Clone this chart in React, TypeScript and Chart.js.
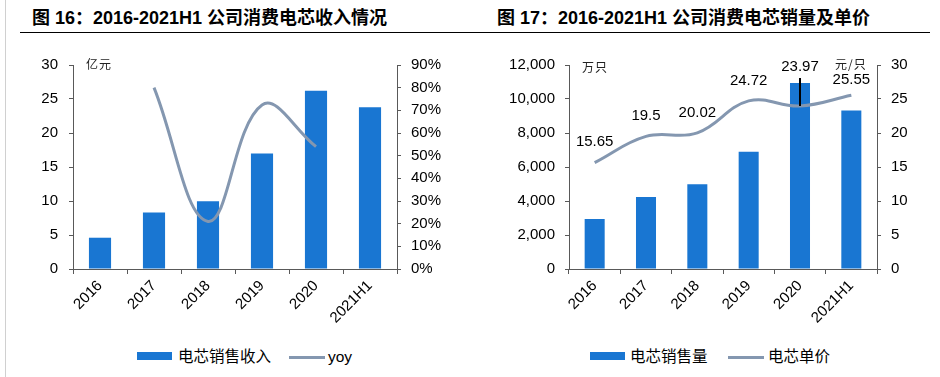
import React, { useEffect, useRef } from 'react';
import { Chart, registerables } from 'chart.js';

Chart.register(...registerables);

// ---- data ----
const categories = ['2016', '2017', '2018', '2019', '2020', '2021H1'];
// Figure 16
const revenue = [4.6, 8.3, 9.95, 17.0, 26.2, 23.8]; // 亿元
const yoy = [null, 80, 21, 72.4, 54, null]; // %
const revenueTicks = [0, 5, 10, 15, 20, 25, 30];
const yoyTicks = [0, 10, 20, 30, 40, 50, 60, 70, 80, 90];
// Figure 17
const volume = [2940, 4230, 4980, 6900, 10940, 9330]; // 万只
const unitPrice = [15.65, 19.5, 20.02, 24.72, 23.97, 25.55]; // 元/只
const volumeTicks = [0, 2000, 4000, 6000, 8000, 10000, 12000];
const priceTicks = [0, 5, 10, 15, 20, 25, 30];

const BAR = '#1976D2';
const LINE = '#8497B0';
const AXIS = '#595959';
const LATIN = "'Liberation Sans', Arial, sans-serif";
const CJK = "'Liberation Sans', 'Noto Sans CJK SC', sans-serif";
const tickFont = { family: LATIN, size: 15 };

const CANVAS_H = 300;
const axisGrid = { drawOnChartArea: false, tickLength: 4, color: AXIS, lineWidth: 1 };

function xScale() {
  return {
    grid: { ...axisGrid, offset: true, tickLength: 5 },
    border: { color: AXIS },
    ticks: { font: tickFont, color: '#000', maxRotation: 45, minRotation: 45, padding: 3, autoSkip: false },
    afterFit: (s: any) => { s.height = CANVAS_H - 229; },
  };
}

const priceLabelPlugin = {
  id: 'priceLabels',
  afterDatasetsDraw(chart: any) {
    const meta = chart.getDatasetMeta(1);
    const ctx = chart.ctx;
    ctx.save();
    ctx.font = `15px ${LATIN}`;
    ctx.fillStyle = '#000';
    ctx.textAlign = 'center';
    ctx.textBaseline = 'middle';
    meta.data.forEach((pt: any, i: number) => {
      let dy = 20.5;
      if (i === 4) {
        dy = 39;
        ctx.strokeStyle = '#000';
        ctx.lineWidth = 2;
        ctx.beginPath();
        ctx.moveTo(pt.x, pt.y - 28);
        ctx.lineTo(pt.x, pt.y);
        ctx.stroke();
      }
      if (i === 5) dy = 15;
      ctx.fillText(String(unitPrice[i]), pt.x, pt.y - dy);
    });
    ctx.restore();
  },
};

function RevenueChart() {
  const ref = useRef<HTMLCanvasElement>(null);
  useEffect(() => {
    const chart = new Chart(ref.current!, {
      type: 'bar',
      data: {
        labels: categories,
        datasets: [
          { type: 'bar', label: '电芯销售收入', data: revenue, backgroundColor: BAR, yAxisID: 'y', categoryPercentage: 1, barPercentage: 0.41, order: 2 } as any,
          { type: 'line', label: 'yoy', data: yoy, borderColor: LINE, borderWidth: 3, pointRadius: 0, tension: 0.4, yAxisID: 'y1', fill: false, order: 1 } as any,
        ],
      },
      options: {
        responsive: false,
        animation: false,
        events: [],
        layout: { padding: { top: 25, left: 0, right: 0, bottom: 0 } },
        plugins: { legend: { display: false }, tooltip: { enabled: false } },
        scales: {
          x: xScale() as any,
          y: {
            position: 'left', min: 0, max: 30,
            afterBuildTicks: (s: any) => { s.ticks = revenueTicks.map(v => ({ value: v })); },
            ticks: { font: tickFont, color: '#000', padding: 11 },
            grid: axisGrid, border: { color: AXIS },
            afterFit: (s: any) => { s.width = 73; },
          } as any,
          y1: {
            position: 'right', min: 0, max: 90,
            afterBuildTicks: (s: any) => { s.ticks = yoyTicks.map(v => ({ value: v })); },
            ticks: { font: tickFont, color: '#000', padding: 10, callback: (v: any) => v + '%' },
            grid: axisGrid, border: { color: AXIS },
            afterFit: (s: any) => { s.width = 73; },
          } as any,
        },
      },
    });
    return () => chart.destroy();
  }, []);
  return <canvas ref={ref} width={470} height={CANVAS_H} style={{ position: 'absolute', left: 0, top: 40 }} />;
}

function VolumeChart() {
  const ref = useRef<HTMLCanvasElement>(null);
  useEffect(() => {
    const chart = new Chart(ref.current!, {
      type: 'bar',
      data: {
        labels: categories,
        datasets: [
          { type: 'bar', label: '电芯销售量', data: volume, backgroundColor: BAR, yAxisID: 'y', categoryPercentage: 1, barPercentage: 0.39, order: 2 } as any,
          { type: 'line', label: '电芯单价', data: unitPrice, borderColor: LINE, borderWidth: 3, pointRadius: 0, tension: 0.4, yAxisID: 'y1', fill: false, order: 1 } as any,
        ],
      },
      options: {
        responsive: false,
        animation: false,
        events: [],
        layout: { padding: { top: 25, left: 0, right: 0, bottom: 0 } },
        plugins: { legend: { display: false }, tooltip: { enabled: false } },
        scales: {
          x: xScale() as any,
          y: {
            position: 'left', min: 0, max: 12000,
            afterBuildTicks: (s: any) => { s.ticks = volumeTicks.map(v => ({ value: v })); },
            ticks: { font: tickFont, color: '#000', padding: 10, callback: (v: any) => Number(v).toLocaleString('en-US') },
            grid: axisGrid, border: { color: AXIS },
            afterFit: (s: any) => { s.width = 99; },
          } as any,
          y1: {
            position: 'right', min: 0, max: 30,
            afterBuildTicks: (s: any) => { s.ticks = priceTicks.map(v => ({ value: v })); },
            ticks: { font: tickFont, color: '#000', padding: 10 },
            grid: axisGrid, border: { color: AXIS },
            afterFit: (s: any) => { s.width = 63; },
          } as any,
        },
      },
      plugins: [priceLabelPlugin],
    });
    return () => chart.destroy();
  }, []);
  return <canvas ref={ref} width={470} height={CANVAS_H} style={{ position: 'absolute', left: 470, top: 40 }} />;
}

const titleStyle: React.CSSProperties = {
  position: 'absolute', top: 7, fontFamily: CJK, fontWeight: 'bold', fontSize: 18, lineHeight: '22px', color: '#000', whiteSpace: 'nowrap',
};
const unitStyle: React.CSSProperties = {
  position: 'absolute', fontFamily: "'Noto Sans CJK SC', sans-serif", fontSize: 12, lineHeight: '14px', color: '#222', whiteSpace: 'nowrap', letterSpacing: 1,
};
const legendText: React.CSSProperties = {
  position: 'absolute', top: 347, fontFamily: CJK, fontSize: 15.5, lineHeight: '20px', color: '#000', whiteSpace: 'nowrap',
};

export default function App() {
  return (
    <div style={{ position: 'absolute', left: 0, top: 0, width: 940, height: 377, background: '#fff', overflow: 'hidden' }}>
      <div style={{ position: 'absolute', left: 5, top: 0, width: 1, height: 377, background: '#d0d0d0' }} />
      <div style={{ ...titleStyle, left: 32 }}>图 16：2016-2021H1 公司消费电芯收入情况</div>
      <div style={{ ...titleStyle, left: 497 }}>图 17：2016-2021H1 公司消费电芯销量及单价</div>
      <div style={{ position: 'absolute', left: 20, top: 32, width: 910, height: 1, background: '#000' }} />

      <RevenueChart />
      <VolumeChart />

      <div style={{ ...unitStyle, left: 86, top: 57 }}>亿元</div>
      <div style={{ ...unitStyle, left: 582, top: 60 }}>万只</div>
      <div style={{ ...unitStyle, left: 835, top: 57 }}>元/只</div>

      <div style={{ position: 'absolute', left: 137, top: 352, width: 35, height: 8, background: BAR }} />
      <div style={{ ...legendText, left: 178 }}>电芯销售收入</div>
      <div style={{ position: 'absolute', left: 289, top: 355.5, width: 36, height: 3, background: LINE }} />
      <div style={{ ...legendText, left: 328 }}>yoy</div>

      <div style={{ position: 'absolute', left: 590, top: 352, width: 35, height: 8, background: BAR }} />
      <div style={{ ...legendText, left: 630 }}>电芯销售量</div>
      <div style={{ position: 'absolute', left: 728, top: 355.5, width: 36, height: 3, background: LINE }} />
      <div style={{ ...legendText, left: 768 }}>电芯单价</div>
    </div>
  );
}
